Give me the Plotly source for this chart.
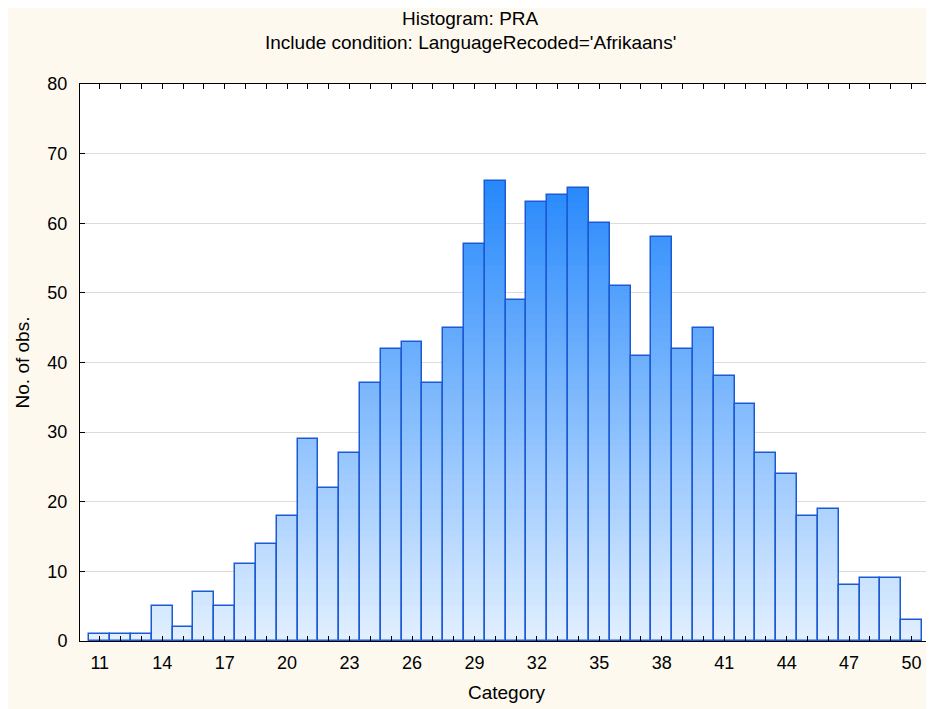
import plotly.graph_objects as go

# histogram data: category -> count
categories = list(range(11, 51))
counts = [1, 1, 1, 5, 2, 7, 5, 11, 14, 18,
          29, 22, 27, 37, 42, 43, 37, 45, 57, 66,
          49, 63, 64, 65, 60, 51, 41, 58, 42, 45,
          38, 34, 27, 24, 18, 19, 8, 9, 9, 3]
tick_labels = [str(c) if (c - 11) % 3 == 0 else '' for c in categories]
title_lines = ['Histogram: PRA', "Include condition: LanguageRecoded='Afrikaans'"]

light = (226, 240, 255)
dark = (38, 136, 252)
top = max(counts)

fig = go.Figure()

# vertical gradient: stack one-unit slices, coloured by their height
for k in range(top):
    f = (k + 0.5) / top
    col = 'rgb(%d,%d,%d)' % tuple(round(a + (b - a) * f) for a, b in zip(light, dark))
    fig.add_trace(go.Bar(
        x=categories,
        y=[min(1, max(0, v - k)) for v in counts],
        base=[k] * len(categories),
        marker=dict(color=col, line=dict(width=0)),
        hoverinfo='skip',
        showlegend=False
    ))

# outlines
fig.add_trace(go.Bar(
    x=categories,
    y=counts,
    marker=dict(color='rgba(0,0,0,0)', line=dict(color='#1c5ad4', width=1.5)),
    hovertemplate='Category: %{x}<br>No. of obs.: %{y}<extra></extra>',
    showlegend=False
))

# two-line title as annotations, centred on the whole figure
# (the page adds an 8px body margin, figure is 926x701)
for txt, ypos in zip(title_lines, [1.1167, 1.0754]):
    fig.add_annotation(text=txt, xref='paper', yref='paper', x=0.458, y=ypos,
                       xanchor='center', yanchor='middle', showarrow=False,
                       font=dict(size=19))

fig.update_layout(
    width=926,
    height=701,
    barmode='overlay',
    bargap=0,
    paper_bgcolor='#fdf9ef',
    plot_bgcolor='white',
    font=dict(family='Liberation Sans, Arial', size=18, color='black'),
    margin=dict(l=72, r=1, t=76, b=68)
)

fig.update_xaxes(
    range=[10.05, 51.03],
    tickmode='array',
    tickvals=categories,
    ticktext=tick_labels,
    ticks='inside',
    ticklen=5,
    tickcolor='black',
    showline=True,
    linecolor='black',
    linewidth=1,
    mirror='ticks',
    showgrid=False,
    zeroline=False,
    ticklabelstandoff=5,
    title=dict(text='Category', standoff=14, font=dict(size=19))
)

fig.update_yaxes(
    range=[0, 80],
    dtick=10,
    ticks='inside',
    ticklen=5,
    tickcolor='black',
    showline=True,
    linecolor='black',
    linewidth=1,
    mirror='ticks',
    showgrid=True,
    gridcolor='#dcdcdc',
    zeroline=False,
    ticklabelstandoff=8,
    title=dict(text='No. of obs.', standoff=12, font=dict(size=19))
)

fig.write_html('out.html')
